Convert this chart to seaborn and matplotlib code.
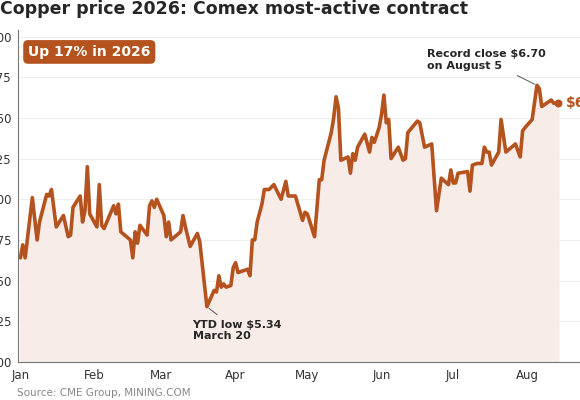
import pandas as pd
import seaborn as sb
import matplotlib.pyplot as plt

# Price path: day offset from Jan 1 and price in $/lb
days = [0, 1, 2, 5, 7, 8, 11, 12, 13, 15, 18, 20, 21, 22, 25, 26, 27, 28, 29, 32,
        33, 34, 35, 37, 39, 40, 41, 42, 46, 47, 48, 49, 50, 53, 54, 55, 56, 57, 60, 61,
        62, 63, 67, 68, 69, 71, 74, 75, 78, 81, 82, 83, 84, 85, 86, 88, 89, 90, 91, 95,
        96, 97, 98, 99, 101, 102, 104, 106, 109, 111, 112, 115, 117, 118, 119, 120, 123, 125, 126, 127,
        130, 131, 132, 133, 134, 137, 138, 139, 140, 141, 144, 146, 147, 148, 150, 151, 152, 153, 154, 155,
        158, 160, 161, 162, 166, 167, 169, 172, 174, 176, 179, 180, 181, 182, 183, 187, 188, 189, 191, 193,
        194, 195, 196, 197, 200, 201, 203, 207, 209, 210, 211, 214, 216, 217, 218, 222, 223, 225]
prices = [5.64, 5.72, 5.64, 6.01, 5.75, 5.86, 6.03, 6.02, 6.06, 5.83, 5.90, 5.77, 5.78, 5.95, 6.02, 5.86, 5.93, 6.20, 5.91, 5.83,
          6.09, 5.84, 5.82, 5.89, 5.96, 5.91, 5.97, 5.80, 5.75, 5.64, 5.80, 5.73, 5.84, 5.78, 5.96, 5.99, 5.95, 6.00, 5.90, 5.77,
          5.86, 5.75, 5.80, 5.90, 5.83, 5.71, 5.79, 5.74, 5.34, 5.44, 5.43, 5.53, 5.46, 5.48, 5.46, 5.47, 5.58, 5.61, 5.55, 5.57,
          5.53, 5.75, 5.75, 5.86, 5.97, 6.06, 6.06, 6.09, 6.00, 6.11, 6.02, 6.02, 5.92, 5.87, 5.92, 5.91, 5.77, 6.12, 6.12, 6.24,
          6.41, 6.50, 6.63, 6.56, 6.24, 6.26, 6.16, 6.28, 6.24, 6.32, 6.40, 6.29, 6.38, 6.35, 6.44, 6.52, 6.64, 6.47, 6.49, 6.25,
          6.32, 6.24, 6.25, 6.41, 6.48, 6.47, 6.32, 6.34, 5.93, 6.13, 6.09, 6.18, 6.10, 6.10, 6.16, 6.17, 6.05, 6.21, 6.22, 6.22,
          6.32, 6.29, 6.29, 6.21, 6.29, 6.49, 6.29, 6.34, 6.26, 6.42, 6.44, 6.49, 6.70, 6.68, 6.57, 6.61, 6.59, 6.59]

months = ['Jan', 'Feb', 'Mar', 'Apr', 'May', 'Jun', 'Jul', 'Aug']
y_ticks = [5.00, 5.25, 5.50, 5.75, 6.00, 6.25, 6.50, 6.75, 7.00]

copper = '#b5531f'
df = pd.DataFrame({'date': pd.Timestamp('2026-01-01') + pd.to_timedelta(days, unit='D'),
                   'price': prices})

sb.set_style('white')
plt.rcParams['font.family'] = ['DejaVu Sans']
fig = plt.figure(figsize=(5.8, 4), dpi=100)
ax = fig.add_axes([0.031, 0.095, 0.969, 0.83])

ax.fill_between(df['date'], df['price'], 5.0, color='#f7ece7', zorder=1)
sb.lineplot(data=df, x='date', y='price', color=copper, linewidth=2.6, ax=ax, zorder=3)
ax.scatter(df['date'].iloc[-1], df['price'].iloc[-1], color=copper, s=22, zorder=4)
ax.text(df['date'].iloc[-1] + pd.Timedelta(days=3), df['price'].iloc[-1],
        f"${df['price'].iloc[-1]:.2f}", color=copper, fontsize=10, fontweight='bold', va='center')

ax.set_xlim(pd.Timestamp('2025-12-31'), pd.Timestamp('2026-08-23'))
ax.set_ylim(5.0, 7.04)
ax.set_yticks(y_ticks)
ax.set_yticklabels([f'${v:.2f}' for v in y_ticks], fontsize=8.5, color='#333333')
ax.set_xticks(pd.date_range('2026-01-01', periods=len(months), freq='MS'))
ax.set_xticklabels(months, fontsize=8.5, color='#333333')
ax.tick_params(axis='both', length=3, pad=2)
ax.grid(axis='y', color='#eeeeee', linewidth=0.8)
ax.set_xlabel('')
ax.set_ylabel('')
for s in ['top', 'right']:
    ax.spines[s].set_visible(False)
for s in ['left', 'bottom']:
    ax.spines[s].set_color('#777777')

low = df.loc[df['price'].idxmin()]
ax.annotate('YTD low $5.34\nMarch 20', xy=(low['date'], low['price']),
            xytext=(low['date'] - pd.Timedelta(days=6), 5.14), fontsize=8, fontweight='bold',
            arrowprops=dict(arrowstyle='-', color='#555555', lw=0.7), zorder=5)
high = df.loc[df['price'].idxmax()]
ax.annotate('Record close $6.70\non August 5', xy=(high['date'], high['price']),
            xytext=(high['date'] - pd.Timedelta(days=46), 6.80), fontsize=8, fontweight='bold',
            arrowprops=dict(arrowstyle='-', color='#555555', lw=0.7), zorder=5)

ax.text(0.018, 0.955, 'Up 17% in 2026', transform=ax.transAxes, fontsize=10, fontweight='bold',
        color='white', va='top', bbox=dict(boxstyle='round,pad=0.35', fc=copper, ec='none'))

fig.text(0.0, 0.955, 'Copper price 2026: Comex most-active contract', fontsize=12.5,
         fontweight='bold', va='bottom')
fig.text(0.03, 0.01, 'Source: CME Group, MINING.COM', fontsize=7.5, color='#888888')

fig.savefig('out.png', dpi=100)
